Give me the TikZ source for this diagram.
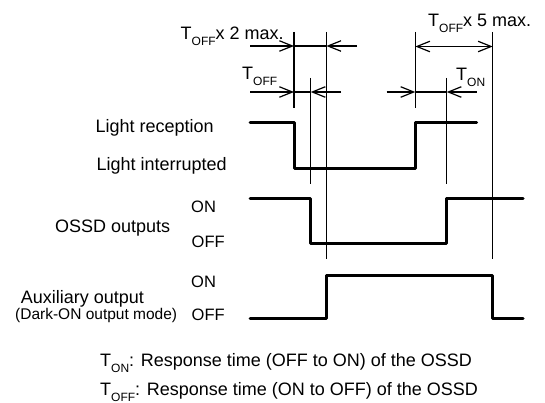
\documentclass[tikz,border=0pt]{standalone}
\usepackage{fontspec}
\setmainfont{Liberation Sans}
\usetikzlibrary{arrows.meta}
\newcommand{\tsub}[1]{\raisebox{-6pt}{\fontsize{12}{12}\selectfont #1}}
\tikzset{
  sig/.style={line width=3pt, line cap=round, line join=round},
  thinline/.style={line width=1.2pt},
  arr/.style={thinline, -{Straight Barb[length=13pt,width=10.5pt,line width=1.2pt]}},
  darr/.style={thinline, {Straight Barb[length=13pt,width=10.5pt,line width=1.2pt]}-{Straight Barb[length=13pt,width=10.5pt,line width=1.2pt]}},
  lbl/.style={anchor=base west, inner sep=0pt, font=\fontsize{18}{18}\selectfont},
  lvl/.style={anchor=base west, inner sep=0pt, font=\fontsize{16.5}{16.5}\selectfont},
  small/.style={anchor=base west, inner sep=0pt, font=\fontsize{15.5}{15.5}\selectfont}
}
\begin{document}
\begin{tikzpicture}[x=1pt,y=-1pt]
\useasboundingbox (0,0) rectangle (545,403);
% vertical reference lines
\coordinate (v1t) at (294,32);    \coordinate (v1b) at (294,108);
\coordinate (v2t) at (310.7,78);  \coordinate (v2b) at (310.7,184);
\coordinate (v3t) at (326.4,32);  \coordinate (v3b) at (326.4,259);
\coordinate (v4t) at (415.3,32);  \coordinate (v4b) at (415.3,108);
\coordinate (v5t) at (446.7,78);  \coordinate (v5b) at (446.7,184);
\coordinate (v6t) at (492.7,32);  \coordinate (v6b) at (492.7,259);
\foreach \v in {1,...,6}{\draw[thinline] (v\v t) -- (v\v b);}
% arrows
\coordinate (a1s) at (250,46);   \coordinate (a1p) at (294,46);
\coordinate (a1q) at (326.4,46); \coordinate (a1e) at (357,46);
\draw[arr] (a1s) -- (a1p);
\draw[thinline] (a1p) -- (a1q);
\draw[arr] (a1e) -- (a1q);
\coordinate (a2s) at (250,92);   \coordinate (a2p) at (294,92);
\coordinate (a2q) at (310.7,92); \coordinate (a2e) at (341,92);
\draw[arr] (a2s) -- (a2p);
\draw[thinline] (a2p) -- (a2q);
\draw[arr] (a2e) -- (a2q);
\coordinate (a3p) at (415.3,46.5); \coordinate (a3q) at (492.7,46.5);
\draw[darr] (a3p) -- (a3q);
\coordinate (a4s) at (386.7,92); \coordinate (a4p) at (415.3,92);
\coordinate (a4q) at (446.7,92); \coordinate (a4e) at (476.7,92);
\draw[arr] (a4s) -- (a4p);
\draw[thinline] (a4p) -- (a4q);
\draw[arr] (a4e) -- (a4q);
% timing labels
\node[lbl] (t2max) at (180.5,40) {T\tsub{OFF}x 2 max.};
\node[lbl] (toff) at (242,80) {T\tsub{OFF}};
\node[lbl] (t5max) at (428,27) {T\tsub{OFF}x 5 max.};
\node[lbl] (ton) at (456,81) {T\tsub{ON}};
% signals
\draw[sig] (250,122.3) -- (294.8,122.3) -- (294.8,168.3) -- (415.8,168.3) -- (415.8,122.3) -- (476.7,122.3);
\draw[sig] (250,198.3) -- (310.7,198.3) -- (310.7,243.3) -- (446.7,243.3) -- (446.7,198.3) -- (523,198.3);
\draw[sig] (250,318.3) -- (326.6,318.3) -- (326.6,275) -- (492.7,275) -- (492.7,318.3) -- (523,318.3);
% signal labels
\node[lbl] (lrec) at (95.5,133) {Light reception};
\node[lbl] (lint) at (96.5,171) {Light interrupted};
\node[lbl] (ossd) at (55,232) {OSSD outputs};
\node[lvl] (on1) at (191,212.7) {ON};
\node[lvl] (off1) at (191.5,247.3) {OFF};
\node[lbl] (aux) at (20.7,303) {Auxiliary output};
\node[small] (dark) at (15,319) {(Dark-ON output mode)};
\node[lvl] (on2) at (191,287.3) {ON};
\node[lvl] (off2) at (191.5,320) {OFF};
% legend
\node[lbl] (leg1) at (100,366.5) {T\tsub{ON}: Response time (OFF to ON) of the OSSD};
\node[lbl] (leg2) at (100,395) {T\tsub{OFF}: Response time (ON to OFF) of the OSSD};
\end{tikzpicture}
\end{document}
